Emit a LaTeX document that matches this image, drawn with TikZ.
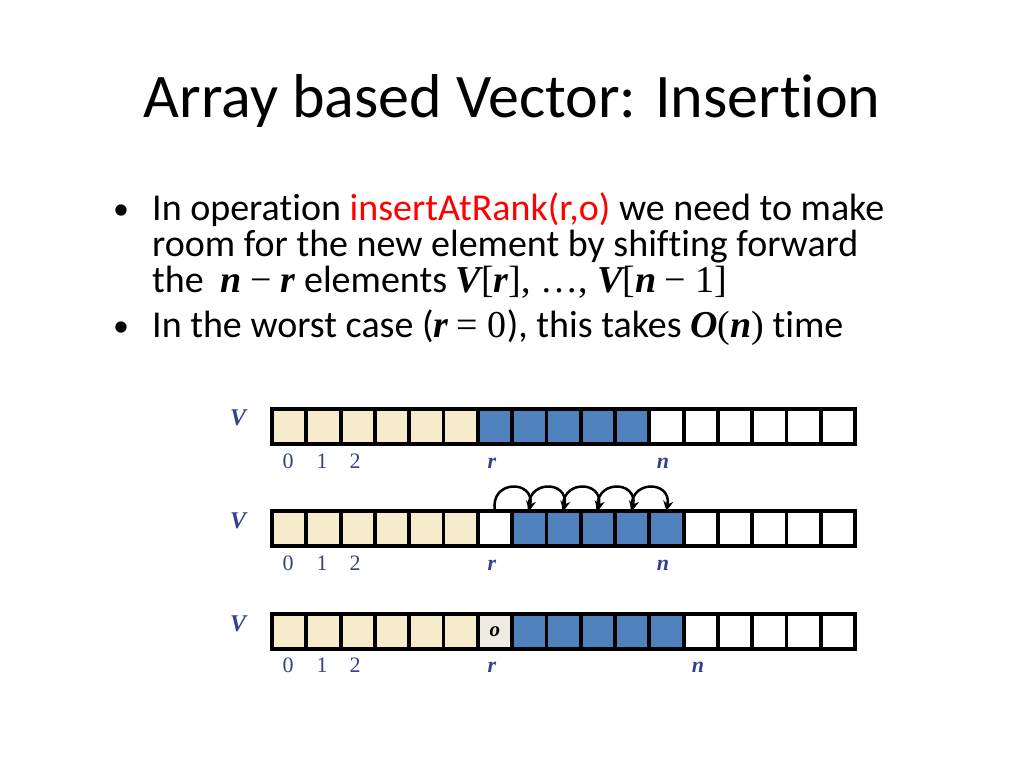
\documentclass[tikz,border=0pt]{standalone}
\usepackage{fontspec}
\setmainfont{Carlito}[Ligatures={NoCommon}]
\newfontfamily\tms{Liberation Serif}
\usetikzlibrary{arrows.meta}
\definecolor{cream}{HTML}{F6ECCC}
\definecolor{cellblue}{HTML}{4F81BD}
\definecolor{cellgray}{HTML}{EEECE1}
\definecolor{lblue}{HTML}{36408F}
\newcommand{\bim}[1]{{\tms\bfseries\itshape #1}}
\newcommand{\tmr}[1]{{\tms #1}}
\begin{document}
\begin{tikzpicture}[x=1pt,y=1pt,
  cell/.style={draw=black, line width=3.8pt, minimum width=34.3pt, minimum height=35pt, inner sep=0pt, outer sep=0pt},
  body/.style={anchor=base west, inner sep=0pt, text height=24pt, text depth=5pt, font=\fontsize{38}{42}\selectfont},
  bul/.style={anchor=base, inner sep=0pt, font=\fontsize{32}{34}\selectfont},
  lbl/.style={anchor=base, inner sep=0pt, text=lblue, font=\fontsize{22}{24}\selectfont\tms},
  vlbl/.style={anchor=base, inner sep=0pt, text=lblue, font=\fontsize{24}{26}\selectfont\tms\bfseries\itshape},
  shiftarrow/.style={-{Stealth[length=10pt,width=10pt]}, line width=2.5pt, out=100, in=80, looseness=2.4}]
\useasboundingbox (0,0) rectangle (1024,-768);
\fill[white] (0,0) rectangle (1024,-768);
% title
\node[anchor=base, inner sep=0pt, font=\fontsize{62}{70}\selectfont] (title) at (512,-117) {Array based Vector: Insertion};
% bullets
\node[bul] (b1) at (121,-219) {\textbullet};
\node[body] (l1) at (152,-220) {In operation \textcolor{red}{insertAtRank(r,o)} we need to make};
\node[body] (l2) at (152,-256) {room for the new element by shifting forward};
\node[body] (l3) at (152,-292) {the \ \bim{n} \tmr{−} \bim{r} elements \bim{V}\tmr{[}\bim{r}\tmr{], …, }\bim{V}\tmr{[}\bim{n} \tmr{− 1]}};
\node[bul] (b2) at (121,-336) {\textbullet};
\node[body] (l4) at (152,-337) {In the worst case (\bim{r} \tmr{= 0}), this takes \bim{O}\tmr{(}\bim{n}\tmr{)} time};
% row 1
\foreach \i in {0,...,16} {
  \ifnum\i<6 \def\cc{cream}\else\ifnum\i<11 \def\cc{cellblue}\else\def\cc{white}\fi\fi
  \node[cell, fill=\cc] (a\i) at ({272+34.3*(\i+0.5)},-426.5) {};
}
% row 2
\foreach \i in {0,...,16} {
  \ifnum\i<6 \def\cc{cream}\else\ifnum\i=6 \def\cc{white}\else\ifnum\i<12 \def\cc{cellblue}\else\def\cc{white}\fi\fi\fi
  \node[cell, fill=\cc] (b\i) at ({272+34.3*(\i+0.5)},-528.5) {};
}
% row 3
\foreach \i in {0,...,16} {
  \ifnum\i<6 \def\cc{cream}\else\ifnum\i=6 \def\cc{cellgray}\else\ifnum\i<12 \def\cc{cellblue}\else\def\cc{white}\fi\fi\fi
  \node[cell, fill=\cc] (c\i) at ({272+34.3*(\i+0.5)},-631.5) {};
}
\node[inner sep=0pt, font=\fontsize{21}{21}\selectfont\tms\bfseries\itshape] (o) at (c6) {o};
% V labels
\node[vlbl] (va) at (238,-425) {V};
\node[vlbl] (vb) at (238,-528) {V};
\node[vlbl] (vc) at (238,-631) {V};
% index labels
\foreach \r/\y in {a/-468,b/-570,c/-672} {
  \node[lbl] (\r0) at (288,\y) {0};
  \node[lbl] (\r1) at (322,\y) {1};
  \node[lbl] (\r2) at (355,\y) {2};
  \node[lbl] (\r r) at (492,\y) {\bfseries\itshape r};
}
\node[lbl] (an) at (663,-468) {\bfseries\itshape n};
\node[lbl] (bn) at (663,-570) {\bfseries\itshape n};
\node[lbl] (cn) at (698,-672) {\bfseries\itshape n};
% shift arrows
\draw[shiftarrow] (b6.north) to (b7.north);
\draw[shiftarrow] (b7.north) to (b8.north);
\draw[shiftarrow] (b8.north) to (b9.north);
\draw[shiftarrow] (b9.north) to (b10.north);
\draw[shiftarrow] (b10.north) to (b11.north);
\end{tikzpicture}
\end{document}
